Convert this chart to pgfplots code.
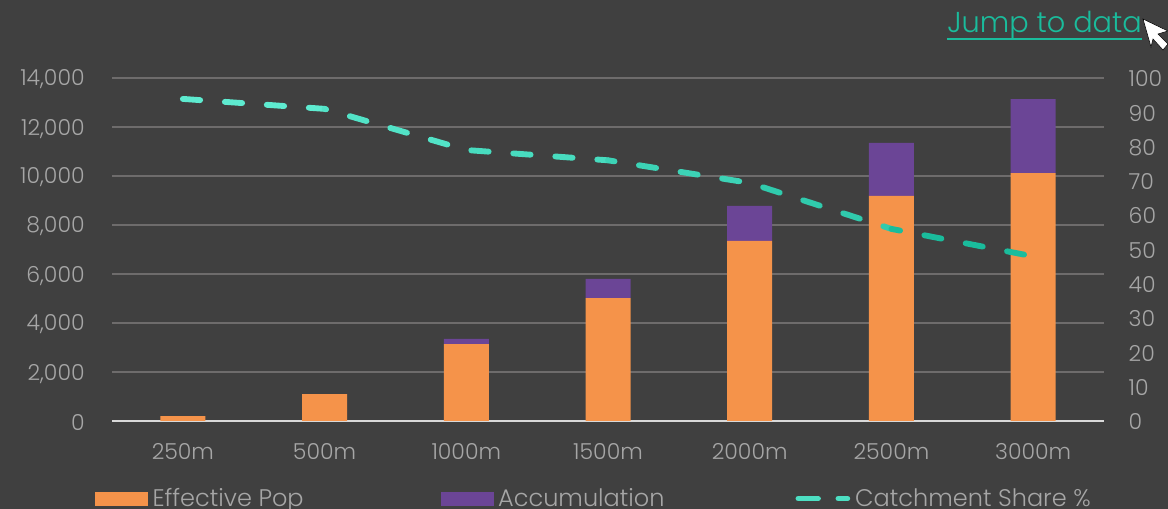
\documentclass[border=0pt]{standalone}
\usepackage{pgfplots}
\pgfplotsset{compat=1.18}
\usepackage{fontspec}
\setmainfont{Poppins Light}
\definecolor{bg}{HTML}{404040}
\definecolor{txt}{HTML}{A6A6A6}
\definecolor{gridc}{HTML}{6E6C6C}
\definecolor{orangeb}{HTML}{F5934A}
\definecolor{purpleb}{HTML}{6B4596}
\definecolor{linestart}{HTML}{5EEBD0}
\definecolor{lineend}{HTML}{1ABC9C}
\definecolor{linkc}{HTML}{1ABC9C}
\pgfplotsset{
  seg/.style n args={2}{lineend!#1!linestart,line width=4.4pt,line cap=round,forget plot,
     dash pattern=on 13pt off 18.575pt,dash phase=#2pt},
}
\begin{document}
\begin{tikzpicture}[x=0.75pt,y=0.75pt]
\path[use as bounding box] (0,0) rectangle (1168,509);
\fill[bg] (0,0) rectangle (1168,509);
\begin{axis}[
  at={(84pt,66pt)},anchor=south west,scale only axis,
  width=744pt,height=257.25pt,
  ybar stacked,bar width=33.75pt,
  xmin=-0.5,xmax=6.5,ymin=0,ymax=14000,
  axis y line*=left,axis x line*=bottom,
  y axis line style={draw=none},
  x axis line style={draw=white!85!black,line width=1.4pt,-},
  xtick={0,...,6},xticklabels={250m,500m,1000m,1500m,2000m,2500m,3000m},
  ytick={0,2000,...,14000},
  scaled y ticks=false,
  major tick length=0pt,
  ymajorgrids,grid style={gridc,line width=1.1pt},
  tick label style={txt,font=\fontsize{16.5}{18}\selectfont},
  /pgf/number format/assume math mode=true,
  /pgf/number format/1000 sep={,},
  xticklabel style={yshift=-13.5pt},
  yticklabel style={xshift=-17pt,yshift=-1.2pt},
]
\addplot[fill=orangeb,draw=none] coordinates {(0,200)(1,1100)(2,3140)(3,5020)(4,7350)(5,9190)(6,10120)};
\addplot[fill=purpleb,draw=none] coordinates {(0,0)(1,0)(2,210)(3,780)(4,1430)(5,2160)(6,3020)};
\end{axis}
\begin{axis}[
  at={(84pt,66pt)},anchor=south west,scale only axis,
  width=744pt,height=257.25pt,
  xmin=-0.5,xmax=6.5,ymin=0,ymax=100,
  axis y line*=right,axis x line=none,
  y axis line style={draw=none},
  ytick={0,10,...,100},
  major tick length=0pt,
  tick label style={txt,font=\fontsize{16.5}{18}\selectfont},
  /pgf/number format/assume math mode=true,
  yticklabel style={xshift=15pt,yshift=-0.6pt},
  legend style={at={(-0.0171,-0.197)},anchor=north west,draw=none,fill=none,text=txt,inner sep=0pt,outer sep=0pt,
     font=\fontsize{18}{19}\selectfont,legend columns=3,
     /tikz/every odd column/.append style={column sep=3.75pt},
     /tikz/column 2/.style={column sep=102.75pt},
     /tikz/column 4/.style={column sep=98.25pt},
     nodes={inner sep=0pt}},
]
\addlegendimage{legend image code/.code={\fill[orangeb] (0pt,-4.9pt) rectangle (39pt,4.9pt);}}
\addlegendentry{Effective Pop}
\addlegendimage{legend image code/.code={\fill[purpleb] (0pt,-4.9pt) rectangle (39pt,4.9pt);}}
\addlegendentry{Accumulation}
\addlegendimage{legend image code/.code={\draw[linestart!75!lineend,line width=4pt,line cap=round] (2pt,0pt)--(17pt,0pt) (32pt,0pt)--(39pt,0pt);}}
\addlegendentry{Catchment Share \%}
\addplot[seg={0}{0}]    coordinates {(0,93.9)(1,91)};
\addplot[seg={17}{11.81}] coordinates {(1,91)(2,79)};
\addplot[seg={33}{27.79}] coordinates {(2,79)(3,76)};
\addplot[seg={50}{8.06}] coordinates {(3,76)(4,69.4)};
\addplot[seg={67}{20.96}] coordinates {(4,69.4)(5,56)};
\addplot[seg={100}{6.41}] coordinates {(5,56)(6,48)};
\end{axis}
\node[anchor=base west,inner sep=0pt,text=linkc,font=\fontsize{21.6}{24}\selectfont] at (947,476) {Jump to data};
\draw[linkc,line width=1pt] (947,470) -- (1142,470);
\fill[white,draw=black,line width=0.4pt] (1143,490) -- (1168,478) -- (1158,475) -- (1168,465) -- (1163,459) -- (1153,470) -- (1151,462) -- cycle;
\end{tikzpicture}
\end{document}
